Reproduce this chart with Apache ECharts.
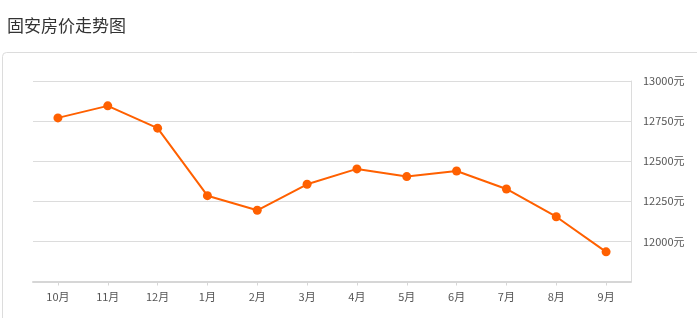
<!DOCTYPE html>
<html><head><meta charset="utf-8">
<script src="https://cdn.jsdelivr.net/npm/echarts@6/dist/echarts.min.js"></script>
<style>html,body{margin:0;padding:0;background:#fff;}#c{width:697px;height:318px;}</style>
</head><body><div id="c"></div>
<script>
var titleText = '固安房价走势图';
var months = ['10月','11月','12月','1月','2月','3月','4月','5月','6月','7月','8月','9月'];
var prices = [12770, 12845, 12706, 12285, 12194, 12356, 12452, 12404, 12439, 12327, 12154, 11935];
var yMin = 11750, yMax = 13000, yStep = 250;

var chart = echarts.init(document.getElementById('c'), null, {renderer: 'canvas'});
chart.setOption({
  animation: false,
  title: {
    text: titleText, left: 2, top: 12,
    textStyle: {fontSize: 17, fontWeight: 'normal', color: '#333', fontFamily: 'Noto Sans CJK SC'}
  },
  graphic: [{
    type: 'rect', left: 2, top: 52, z: -1,
    shape: {width: 720, height: 300, r: 4},
    style: {fill: '#fff', stroke: '#dcdcdc', lineWidth: 1}
  }],
  grid: {left: 33, right: 66, top: 81, bottom: 36.5, containLabel: false},
  xAxis: {
    type: 'category', data: months, boundaryGap: true,
    axisLine: {show: true, lineStyle: {color: '#d6d6d6', width: 2}},
    axisTick: {show: true, alignWithLabel: true, length: 4, lineStyle: {color: '#d6d6d6'}},
    axisLabel: {color: '#555', fontSize: 11, margin: 10, fontFamily: 'Noto Sans CJK SC'},
    splitLine: {show: false}
  },
  yAxis: {
    type: 'value', position: 'right', min: yMin, max: yMax, interval: yStep,
    axisLine: {show: true, lineStyle: {color: '#dcdcdc', width: 1}},
    axisTick: {show: false},
    axisLabel: {color: '#555', fontSize: 11, margin: 12, fontFamily: 'Noto Sans CJK SC',
      formatter: function (v) { return v === yMin ? '' : v + '元'; }},
    splitLine: {show: true, lineStyle: {color: '#dcdcdc', width: 1}}
  },
  series: [{
    type: 'line', data: prices,
    symbol: 'circle', symbolSize: 9, showSymbol: true,
    lineStyle: {color: '#ff6000', width: 2},
    itemStyle: {color: '#ff6000'}
  }]
});
</script></body></html>
